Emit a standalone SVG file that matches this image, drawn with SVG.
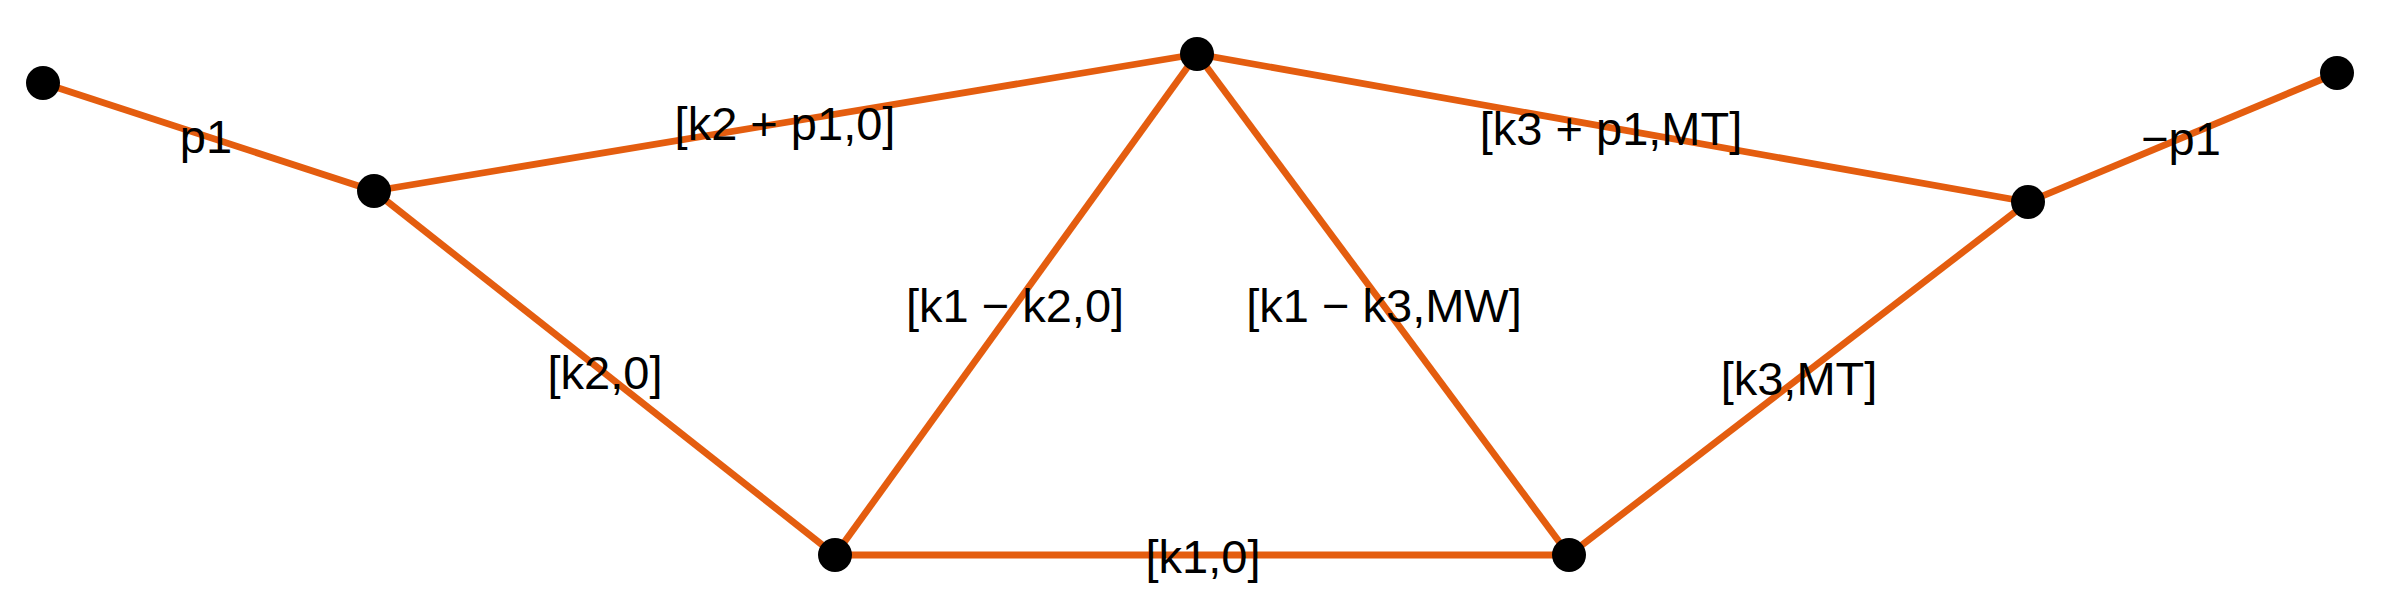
<svg xmlns="http://www.w3.org/2000/svg" width="2392" height="609" viewBox="0 0 2392 609">
<style>
.e{stroke:#E45D0F;stroke-width:6.8;fill:none;stroke-linecap:butt}
.n{fill:#000}
.t{font-family:"Liberation Sans",Arial,sans-serif;font-size:47px;fill:#000;text-anchor:middle}
</style>
<rect width="2392" height="609" fill="#fff"/>
<g id="edges">
<line class="e" x1="43" y1="83" x2="374" y2="191"/>
<line class="e" x1="374" y1="191" x2="1197" y2="54"/>
<line class="e" x1="374" y1="191" x2="835" y2="555"/>
<line class="e" x1="1197" y1="54" x2="835" y2="555"/>
<line class="e" x1="1197" y1="54" x2="1569" y2="555"/>
<line class="e" x1="1197" y1="54" x2="2028" y2="202"/>
<line class="e" x1="835" y1="555" x2="1569" y2="555"/>
<line class="e" x1="1569" y1="555" x2="2028" y2="202"/>
<line class="e" x1="2028" y1="202" x2="2337" y2="73"/>
</g>
<g id="edge-labels">
<text class="t" x="206" y="153">p1</text>
<text class="t" x="785" y="140">[k2 + p1,0]</text>
<text class="t" x="1611" y="145">[k3 + p1,MT]</text>
<text class="t" x="2181" y="155">−p1</text>
<text class="t" x="605" y="389">[k2,0]</text>
<text class="t" x="1015" y="322">[k1 − k2,0]</text>
<text class="t" x="1384" y="322">[k1 − k3,MW]</text>
<text class="t" x="1799" y="395">[k3,MT]</text>
<text class="t" x="1203" y="573">[k1,0]</text>
</g>
<g id="n1"><circle class="n" cx="43" cy="83" r="17"/></g>
<g id="n2"><circle class="n" cx="374" cy="191" r="17"/></g>
<g id="n3"><circle class="n" cx="1197" cy="54" r="17"/></g>
<g id="n4"><circle class="n" cx="835" cy="555" r="17"/></g>
<g id="n5"><circle class="n" cx="1569" cy="555" r="17"/></g>
<g id="n6"><circle class="n" cx="2028" cy="202" r="17"/></g>
<g id="n7"><circle class="n" cx="2337" cy="73" r="17"/></g>
</svg>
